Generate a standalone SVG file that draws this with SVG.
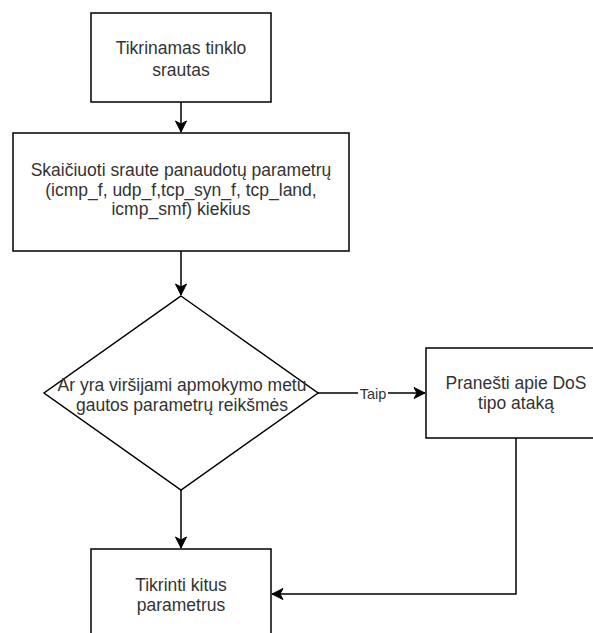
<svg xmlns="http://www.w3.org/2000/svg" width="593" height="633" viewBox="0 0 593 633">
<style>
.box{fill:#fff;stroke:#000;stroke-width:1.5}
.t{font-family:"Liberation Sans",Arial,sans-serif;font-size:17.5px;fill:#333;text-anchor:middle}
.lbl{font-family:"Liberation Sans",Arial,sans-serif;font-size:14.5px;fill:#333;text-anchor:middle}
.e{fill:none;stroke:#000;stroke-width:1.5}
</style>
<defs>
<marker id="arr" viewBox="-12 -6 13 12" refX="0" refY="0" markerWidth="13" markerHeight="12" markerUnits="userSpaceOnUse" orient="auto">
<path d="M0,0 L-11,-5.5 L-8,0 L-11,5.5 Z" fill="#000" stroke="#000" stroke-width="1"/>
</marker>
</defs>
<rect width="593" height="633" fill="#fff"/>
<g id="connectors">
<path class="e" d="M181,102 V132" marker-end="url(#arr)"/>
<path class="e" d="M181,251 V295" marker-end="url(#arr)"/>
<path class="e" d="M318,393 H425" marker-end="url(#arr)"/>
<rect x="358" y="384" width="30" height="18" fill="#fff"/>
<text class="lbl" x="373" y="399">Taip</text>
<path class="e" d="M181,490 V548" marker-end="url(#arr)"/>
<path class="e" d="M516,438 V594 H272" marker-end="url(#arr)"/>
</g>
<g id="n1">
<rect class="box" x="91" y="13" width="180" height="89"/>
<text class="t" x="181" y="54">Tikrinamas tinklo</text>
<text class="t" x="181" y="76">srautas</text>
</g>
<g id="n2">
<rect class="box" x="13" y="133" width="336" height="118"/>
<text class="t" x="181" y="176">Skaičiuoti sraute panaudotų parametrų</text>
<text class="t" x="181" y="196">(icmp_f, udp_f,tcp_syn_f, tcp_land,</text>
<text class="t" x="181" y="215">icmp_smf) kiekius</text>
</g>
<g id="n3">
<path class="box" d="M181,296 L318,393 L181,490 L44,393 Z"/>
<text class="t" x="182" y="391">Ar yra viršijami apmokymo metu</text>
<text class="t" x="182" y="411">gautos parametrų reikšmės</text>
</g>
<g id="n4">
<rect class="box" x="426" y="348" width="180" height="90"/>
<text class="t" x="516" y="389">Pranešti apie DoS</text>
<text class="t" x="516" y="409">tipo ataką</text>
</g>
<g id="n5">
<rect class="box" x="91" y="549" width="180" height="90"/>
<text class="t" x="181" y="591">Tikrinti kitus</text>
<text class="t" x="181" y="611">parametrus</text>
</g>
</svg>
